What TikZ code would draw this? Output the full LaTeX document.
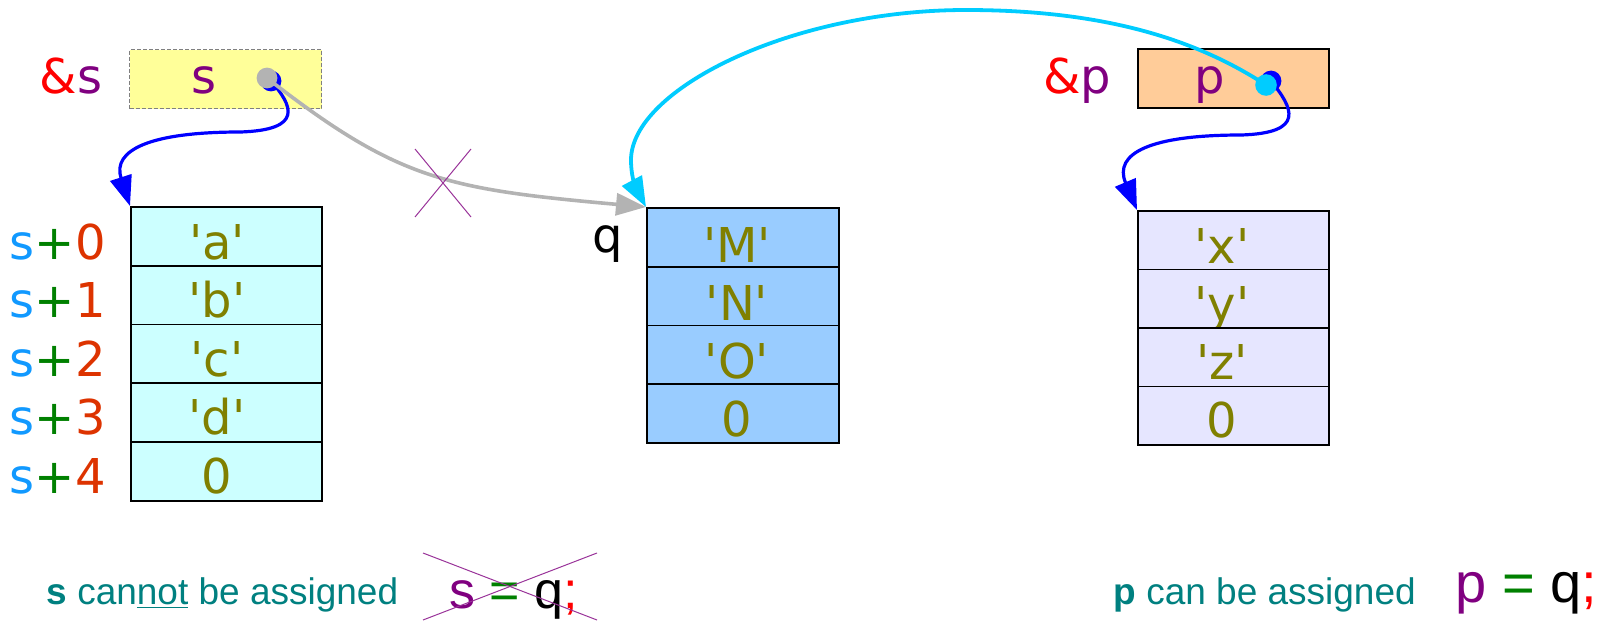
\documentclass[tikz,border=0pt]{standalone}
\usepackage{fontspec}
\setmainfont{DejaVu Sans}
\newfontfamily\capfont{Liberation Sans}
\usetikzlibrary{arrows.meta}

\definecolor{ptrblue}{HTML}{0000FF}
\definecolor{ptrcyan}{HTML}{00CCFF}
\definecolor{ptrgray}{HTML}{B3B3B3}
\definecolor{olivetxt}{HTML}{808000}
\definecolor{purp}{HTML}{800080}
\definecolor{crosspurp}{HTML}{993399}
\definecolor{idxblue}{HTML}{1199FF}
\definecolor{idxgreen}{HTML}{008000}
\definecolor{idxred}{HTML}{DD3300}
\definecolor{tealtxt}{HTML}{008080}
\definecolor{sfill}{HTML}{FFFF99}
\definecolor{pfill}{HTML}{FFCC99}
\definecolor{afill}{HTML}{CCFFFF}
\definecolor{mfill}{HTML}{99CCFF}
\definecolor{xfill}{HTML}{E6E6FF}

\newcommand{\idxlabel}[1]{\textcolor{idxblue}{s}\textcolor{idxgreen}{+}\textcolor{idxred}{#1}}
\newcommand{\chr}[1]{\textquotesingle#1\textquotesingle}

\begin{document}
\begin{tikzpicture}[x=0.5pt,y=-0.5pt,
  cell/.style={draw=black, line width=0.9pt, minimum width=95.5pt,
    minimum height=29.4pt, inner sep=0pt, anchor=north west},
  celltext/.style={anchor=base, inner sep=0pt, text=olivetxt,
    font=\fontsize{24}{28}\selectfont},
  lbl/.style={anchor=base, inner sep=0pt, font=\fontsize{24}{28}\selectfont},
  idx/.style={anchor=base east, inner sep=0pt, font=\fontsize{24}{28}\selectfont},
  captext/.style={anchor=base west, inner sep=0pt, text=tealtxt,
    font=\capfont\fontsize{18.5}{22}\selectfont},
  stmt/.style={anchor=base west, inner sep=0pt, font=\capfont},
  ptrline/.style={line width=1.6pt, -{Triangle[length=15pt,width=11pt]}},
  crossline/.style={draw=crosspurp, line width=0.5pt}
]
\useasboundingbox (0,0) rectangle (1602,621);

% ---- pointer variables s and p ----
\node[draw=gray, dashed, dash pattern=on 2pt off 1pt, line width=0.5pt,
  fill=sfill, minimum width=96pt, minimum height=29.5pt, inner sep=0pt,
  anchor=north west] (sbox) at (129,49) {};
\node[draw=black, line width=0.9pt, fill=pfill, minimum width=95.5pt,
  minimum height=29.5pt, inner sep=0pt, anchor=north west] (pbox) at (1137,48) {};
\node[lbl, text=purp] (stxt) at (204,93) {s};
\node[lbl, text=purp] (ptxt) at (1210,93) {p};
\node[lbl] (amps) at (71,93) {\textcolor{red}{\&}\textcolor{purp}{s}};
\node[lbl] (ampp) at (1077,93) {\textcolor{red}{\&}\textcolor{purp}{p}};

% ---- array s ----
\foreach \i/\t in {0/\chr{a},1/\chr{b},2/\chr{c},3/\chr{d},4/0} {
  \node[cell, fill=afill] (a\i) at (130,206+58.8*\i) {};
  \node[celltext] (at\i) at (217,259+58.6*\i) {\t};
  \node[idx] (ai\i) at (106,259+58.6*\i) {\idxlabel{\i}};
}

% ---- array q ----
\foreach \i/\t in {0/\chr{M},1/\chr{N},2/\chr{O},3/0} {
  \node[cell, fill=mfill, minimum width=96pt] (m\i) at (646,207+58.75*\i) {};
  \node[celltext] (mt\i) at (737,262+58.3*\i) {\t};
}
\node[lbl] (qlbl) at (608,252) {q};

% ---- array p ----
\foreach \i/\t in {0/\chr{x},1/\chr{y},2/\chr{z},3/0} {
  \node[cell, fill=xfill] (x\i) at (1137,210+58.5*\i) {};
  \node[celltext] (xt\i) at (1222,263+58*\i) {\t};
}

% ---- pointer dots ----
\coordinate (sdot) at (267,78);
\coordinate (sdotb) at (271,81);
\coordinate (pdot) at (1266,85);
\coordinate (pdotb) at (1271,81);

\fill[ptrblue] (sdotb) circle (5.2pt);
\fill[ptrblue] (pdotb) circle (5.2pt);

% s -> its own array
\draw[ptrline, ptrblue] (sdotb) .. controls (292,105) and (305,130) .. (240,132)
  .. controls (150,132) and (112,150) .. (a0.north west);
% p -> its own array
\draw[ptrline, ptrblue] (pdotb) .. controls (1293,108) and (1306,133) .. (1241,135)
  .. controls (1151,135) and (1113,153) .. (x0.north west);
% s = q : not allowed
\draw[ptrline, ptrgray, line width=1.8pt] (sdot) .. controls (398,180) and (446,189) .. (m0.north west);
% p = q : allowed
\draw[ptrline, ptrcyan, line width=1.9pt] (pdot) .. controls (1200,42) and (1110,10) .. (966,10)
  .. controls (790,10) and (631,90) .. (631,160)
  .. controls (631,180) and (638,192) .. (m0.north west);

\fill[ptrgray] (sdot) circle (5.2pt);
\fill[ptrcyan] (pdot) circle (5.4pt);

% cross over the forbidden pointer
\draw[crossline] (415,149) -- (471,217);
\draw[crossline] (471,149) -- (415,217);

% ---- captions ----
\node[captext] (capl) at (46,604) {\textbf{s} can\underline{not} be assigned};
\node[captext] (capr) at (1113,604) {\textbf{p} can be assigned};
\node[stmt, font=\capfont\fontsize{26}{30}\selectfont] (stmtl) at (449,608)
  {\textcolor{purp}{s} \textcolor{idxgreen}{=} q\textcolor{red}{;}};
\node[stmt, font=\capfont\fontsize{28}{32}\selectfont] (stmtr) at (1455,602)
  {\textcolor{purp}{p} \textcolor{idxgreen}{=} q\textcolor{red}{;}};
\draw[crossline] (423,553) -- (597,620);
\draw[crossline] (423,620) -- (597,553);
\end{tikzpicture}
\end{document}
